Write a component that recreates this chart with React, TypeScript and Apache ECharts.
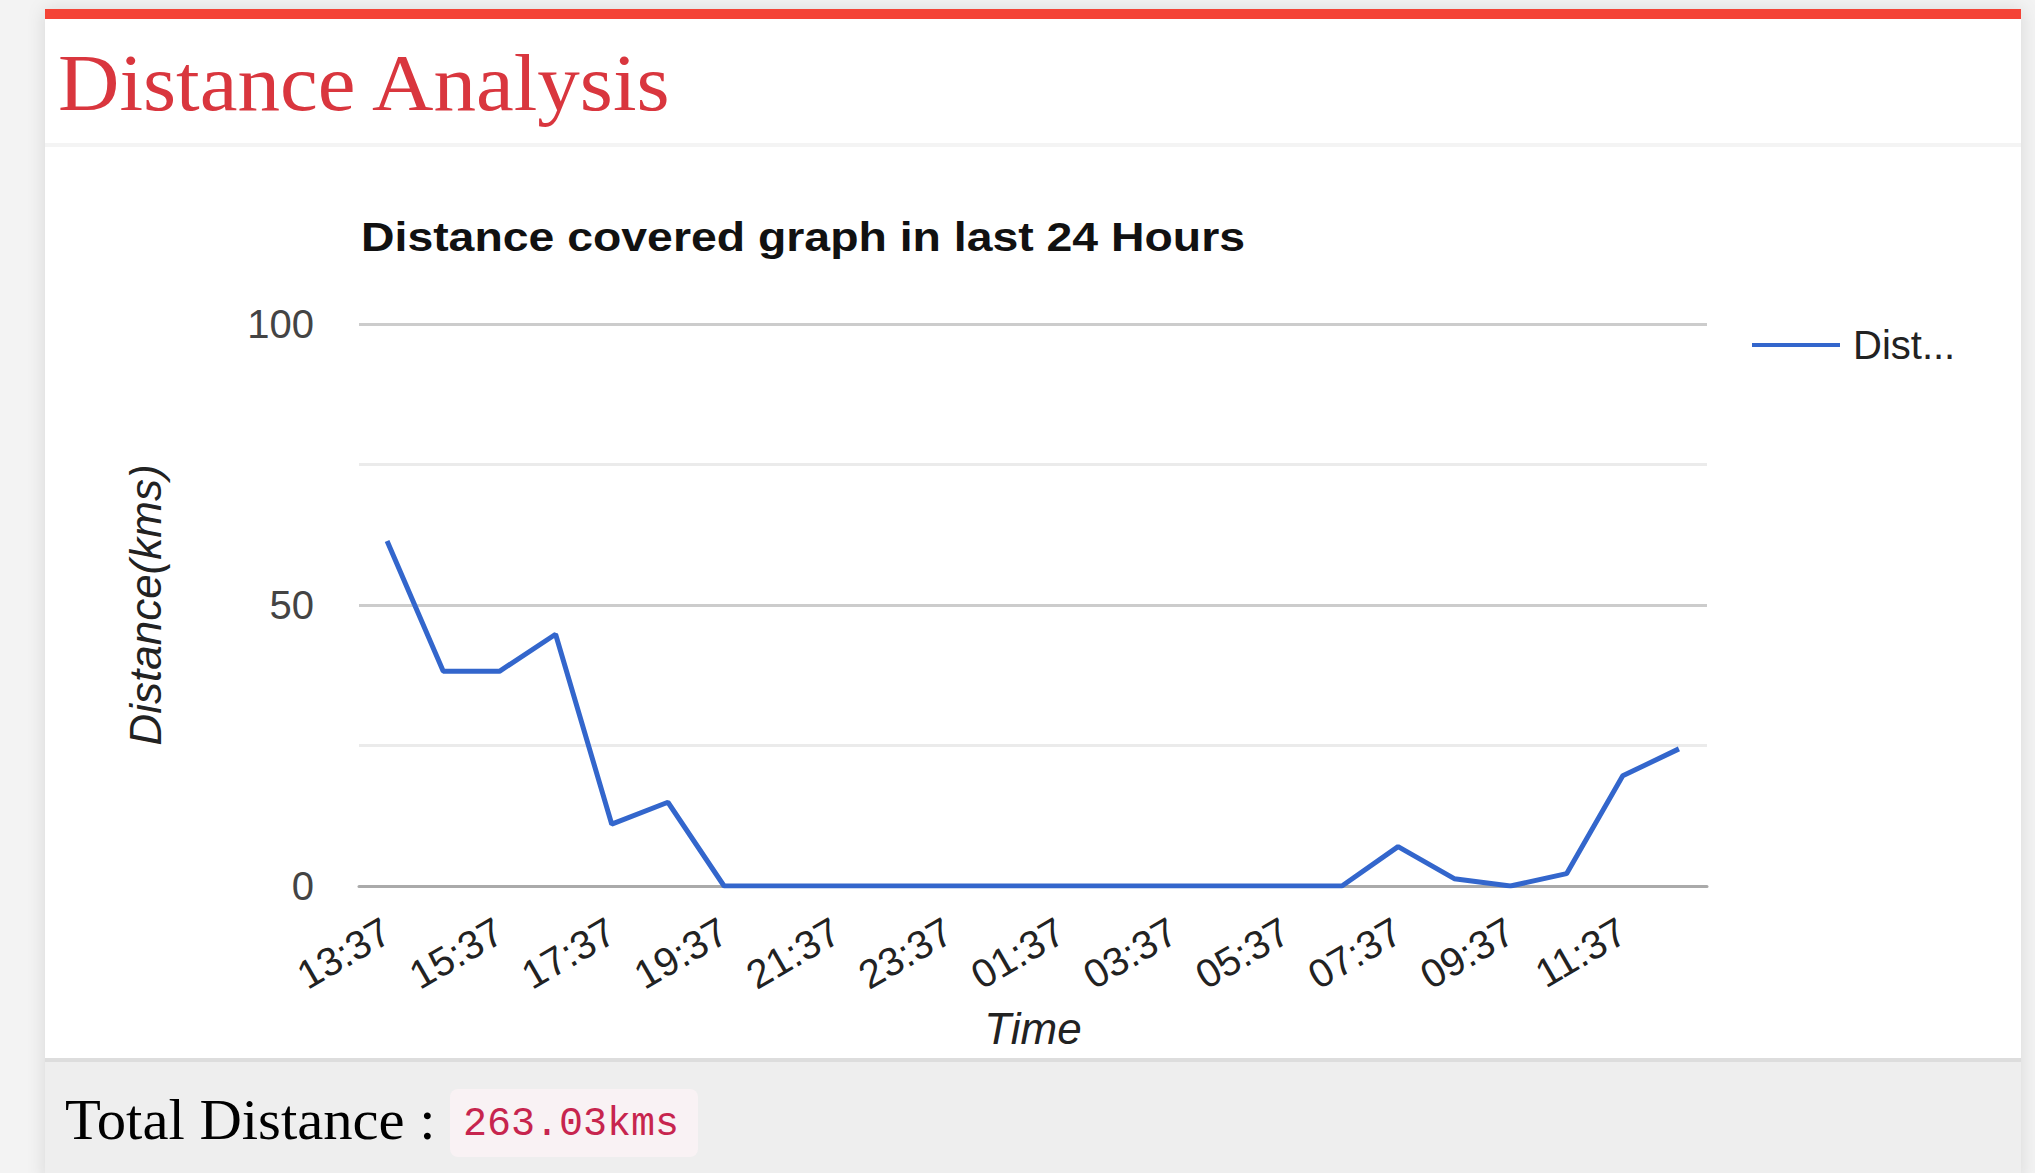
import React, { useEffect, useRef } from "react";
import * as echarts from "echarts";

const hours = [
  "13:37", "14:37", "15:37", "16:37", "17:37", "18:37", "19:37", "20:37",
  "21:37", "22:37", "23:37", "00:37", "01:37", "02:37", "03:37", "04:37",
  "05:37", "06:37", "07:37", "08:37", "09:37", "10:37", "11:37", "12:37",
];
const distanceKms = [
  61.4, 38.2, 38.2, 44.8, 11.0, 14.9, 0, 0,
  0, 0, 0, 0, 0, 0, 0, 0,
  0, 0, 7.0, 1.3, 0, 2.2, 19.6, 24.4,
];
const yMin = 0;
const yMax = 100;
const yStep = 25;
const panelTitle = "Distance Analysis";
const chartTitle = "Distance covered graph in last 24 Hours";
const seriesName = "Distance";
const legendLabel = "Dist...";
const totalLabel = "Total Distance :";
const totalValue = "263.03kms";

const SANS = "'Liberation Sans', Arial, sans-serif";
const SERIF = "'Liberation Serif', 'Times New Roman', serif";
const MONO = "'Liberation Mono', 'DejaVu Sans Mono', monospace";

export default function App() {
  const ref = useRef<HTMLDivElement>(null);
  useEffect(() => {
    if (!ref.current) return;
    const chart = echarts.init(ref.current, undefined, { renderer: "svg" });
    chart.setOption({
      animation: false,
      backgroundColor: "#f3f3f3",
      legend: {
        left: 1752,
        top: 325,
        padding: 0,
        icon: "rect",
        itemWidth: 88,
        itemHeight: 4,
        formatter: () => legendLabel,
        textStyle: { fontFamily: SANS, fontSize: 40, color: "#222", padding: [0, 0, 0, 8] },
        data: [seriesName],
      },
      grid: { left: 359, right: 328, top: 324, bottom: 287, containLabel: false },
      xAxis: {
        type: "category",
        data: hours,
        boundaryGap: true,
        name: "Time",
        nameLocation: "middle",
        nameGap: 120,
        nameTextStyle: { fontFamily: SANS, fontSize: 44, fontStyle: "italic", color: "#222" },
        axisTick: { show: false },
        axisLine: { lineStyle: { color: "#aaaaaa", width: 3 } },
        axisLabel: {
          interval: 1,
          rotate: 30,
          margin: 42,
          fontFamily: SANS,
          fontSize: 40,
          color: "#222",
        },
        splitLine: { show: false },
      },
      yAxis: {
        type: "value",
        min: yMin,
        max: yMax,
        interval: yStep,
        name: "Distance(kms)",
        nameLocation: "middle",
        nameGap: 192,
        nameRotate: 90,
        nameTextStyle: { fontFamily: SANS, fontSize: 44, fontStyle: "italic", color: "#222" },
        axisLine: { show: false },
        axisTick: { show: false },
        axisLabel: {
          margin: 45,
          fontFamily: SANS,
          fontSize: 40,
          color: "#444",
          formatter: (v: number) => (v % 50 === 0 ? String(v) : ""),
        },
        splitLine: { lineStyle: { color: ["#cccccc", "#ebebeb"], width: 3 } },
      },
      series: [
        {
          name: seriesName,
          type: "line",
          data: distanceKms,
          symbol: "none",
          color: "#3366cc",
          lineStyle: { color: "#3366cc", width: 5 },
        },
      ],
      graphic: [
        {
          type: "rect",
          z: -10,
          shape: { x: 45, y: 10, width: 1976, height: 1170 },
          style: { fill: "#ffffff", shadowBlur: 18, shadowColor: "rgba(0,0,0,0.12)" },
          silent: true,
        },
        {
          type: "rect",
          z: -9,
          shape: { x: 45, y: 9, width: 1976, height: 10 },
          style: { fill: "#f44336" },
          silent: true,
        },
        {
          type: "rect",
          z: -9,
          shape: { x: 45, y: 143, width: 1976, height: 4 },
          style: { fill: "#f4f4f4" },
          silent: true,
        },
        {
          type: "text",
          x: 58,
          y: 83,
          scaleX: 1.063,
          style: {
            text: panelTitle,
            fontFamily: SERIF,
            fontSize: 80,
            fill: "#d9363e",
            textVerticalAlign: "middle",
          },
        },
        {
          type: "text",
          x: 361,
          y: 237,
          scaleX: 1.16,
          style: {
            text: chartTitle,
            fontFamily: SANS,
            fontSize: 40,
            fontWeight: "bold",
            fill: "#111",
            textVerticalAlign: "middle",
          },
        },
        {
          type: "rect",
          z: -9,
          shape: { x: 45, y: 1058, width: 1976, height: 120 },
          style: { fill: "#eeeeee" },
          silent: true,
        },
        {
          type: "rect",
          z: -8,
          shape: { x: 45, y: 1058, width: 1976, height: 4 },
          style: { fill: "#dddddd" },
          silent: true,
        },
        {
          type: "text",
          x: 65,
          y: 1120,
          scaleX: 1.048,
          style: {
            text: totalLabel,
            fontFamily: SERIF,
            fontSize: 56,
            fill: "#000",
            textVerticalAlign: "middle",
          },
        },
        {
          type: "rect",
          z: -7,
          shape: { x: 450, y: 1089, width: 248, height: 68, r: 8 },
          style: { fill: "#f9f2f4" },
          silent: true,
        },
        {
          type: "text",
          x: 463,
          y: 1124,
          style: {
            text: totalValue,
            fontFamily: MONO,
            fontSize: 40,
            fill: "#c7254e",
            textVerticalAlign: "middle",
          },
        },
      ],
    });
    return () => chart.dispose();
  }, []);
  return (
    <div
      ref={ref}
      style={{ position: "absolute", left: 0, top: 0, width: 2035, height: 1173 }}
    />
  );
}
